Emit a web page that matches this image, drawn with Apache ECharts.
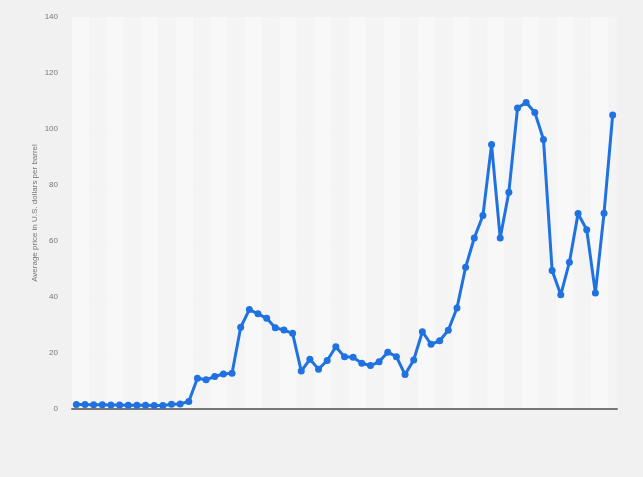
<!DOCTYPE html>
<html><head><meta charset="utf-8">
<script src="https://cdn.jsdelivr.net/npm/echarts@6/dist/echarts.min.js"></script>
<style>html,body{margin:0;padding:0;background:#f1f1f1;}#c{width:643px;height:477px;}</style>
</head><body><div id="c"></div>
<script>
var years = [];
for (var y = 1960; y <= 2022; y++) years.push(String(y));
var prices = [1.63,1.57,1.52,1.50,1.45,1.42,1.36,1.33,1.32,1.29,1.21,1.70,1.82,2.70,11.00,10.43,11.60,12.50,12.79,29.19,35.52,34.00,32.38,29.04,28.20,27.01,13.53,17.73,14.24,17.31,22.26,18.62,18.44,16.33,15.53,16.86,20.29,18.68,12.28,17.48,27.60,23.12,24.36,28.10,36.05,50.64,61.08,69.08,94.45,61.06,77.45,107.46,109.45,105.87,96.29,49.49,40.76,52.43,69.78,64.04,41.47,69.89,105.0];
var yTicks = [0,20,40,60,80,100,120,140];
var yTitle = 'Average price in U.S. dollars per barrel';

var chart = echarts.init(document.getElementById('c'), null, {renderer:'canvas'});
chart.setOption({
  backgroundColor: '#f1f1f1',
  animation: false,
  grid: {left: 72, right: 26, top: 17, bottom: 68},
  xAxis: {
    type: 'category', data: years, boundaryGap: true,
    axisLine: {show: true, lineStyle: {color: '#777', width: 2}},
    axisTick: {show: false},
    axisLabel: {show: false},
    splitLine: {show: false},
    splitArea: {show: true, interval: 1, areaStyle: {color: ['#f8f8f8', '#f4f4f4']}}
  },
  yAxis: {
    type: 'value', min: yTicks[0], max: yTicks[yTicks.length-1], interval: 20,
    name: yTitle, nameLocation: 'middle', nameGap: 37, nameRotate: 90,
    nameMoveOverlap: false,
    nameTextStyle: {color: '#777', fontSize: 8, fontFamily: 'Liberation Sans', verticalAlign: 'middle'},
    axisLine: {show: false}, axisTick: {show: false},
    axisLabel: {color: '#777', fontSize: 8, margin: 14, fontFamily: 'Liberation Sans'},
    splitLine: {lineStyle: {color: '#e2e2e2', width: 1}}
  },
  series: [{
    type: 'line', data: prices,
    showSymbol: true, showAllSymbol: true,
    symbol: 'circle', symbolSize: 7,
    lineStyle: {color: '#1f72e0', width: 3},
    itemStyle: {color: '#1f72e0'},
    z: 3
  }]
});
</script></body></html>
